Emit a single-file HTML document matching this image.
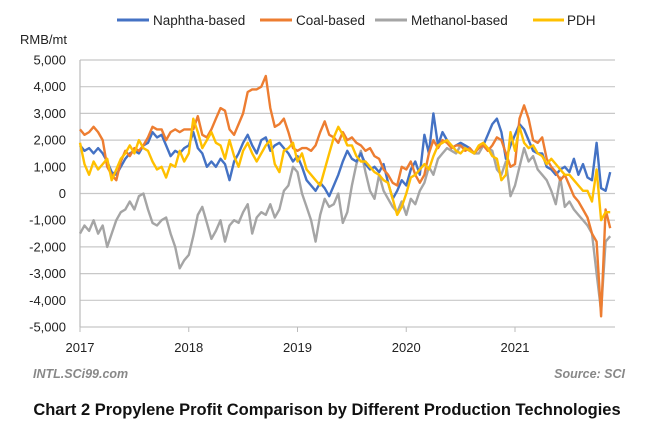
<!DOCTYPE html>
<html><head><meta charset="utf-8"><style>
html,body{margin:0;padding:0;background:#fff;}
svg{display:block;font-family:"Liberation Sans","Noto Sans CJK SC",sans-serif;}
</style></head><body>
<svg id="chart" width="647" height="429" viewBox="0 0 647 429">
<g id="grid"></g>
<g id="yaxis"></g>
<g id="xaxis"></g>
<g id="series"></g>
<text x="20" y="44" font-size="13" fill="#222">RMB/mt</text>
<g>
<g><line x1="117" y1="20" x2="149" y2="20" stroke="#4472C4" stroke-width="3"/><text x="153" y="25" font-size="13.5" fill="#222">Naphtha-based</text></g>
<g><line x1="260" y1="20" x2="292" y2="20" stroke="#ED7D31" stroke-width="3"/><text x="296" y="25" font-size="13.5" fill="#222">Coal-based</text></g>
<g><line x1="375" y1="20" x2="407" y2="20" stroke="#A5A5A5" stroke-width="3"/><text x="411" y="25" font-size="13.5" fill="#222">Methanol-based</text></g>
<g><line x1="533" y1="20" x2="564" y2="20" stroke="#FFC000" stroke-width="3"/><text x="567" y="25" font-size="13.5" fill="#222">PDH</text></g>
</g>
<text x="33" y="378" font-size="12.5" font-weight="bold" font-style="italic" fill="#888">INTL.SCi99.com</text>
<text x="625" y="378" font-size="12.5" font-weight="bold" font-style="italic" fill="#888" text-anchor="end">Source: SCI</text>
<text x="327" y="415" font-size="16.5" font-weight="bold" fill="#111" text-anchor="middle">Chart 2 Propylene Profit Comparison by Different Production Technologies</text>
</svg>
<script>
const yTicks = [5000,4000,3000,2000,1000,0,-1000,-2000,-3000,-4000,-5000];
const yearLabels = ["2017","2018","2019","2020","2021"];
const naphtha = [1800,1600,1700,1500,1700,1500,1200,800,700,1000,1300,1500,1600,1500,1800,1900,2300,2100,2200,1800,1400,1600,1500,1700,
1800,2300,1700,1500,1000,1200,1000,1300,1100,500,1200,1500,1900,2200,1800,1500,2000,2100,1600,1800,1900,1700,1500,1200,
1400,1000,500,300,100,400,200,-100,300,700,1200,1600,1300,1200,1500,1100,900,1000,800,1100,400,-200,100,500,
300,900,1200,700,2200,1500,3000,1800,2300,2000,1700,1800,1900,1800,1700,1500,1700,1800,2200,2600,2800,2300,1300,1800,
2200,2600,2400,2000,1600,1500,1500,1000,900,700,900,1000,800,1300,700,1100,600,500,1900,200,100,800];
const coal = [2400,2200,2300,2500,2300,2000,1000,700,500,1200,1600,1400,1700,1600,1800,2100,2500,2400,2400,2000,2300,2400,2300,2400,
2400,2400,2900,2200,2100,2400,2800,3200,3100,2400,2200,2600,3000,3800,3900,3900,4000,4400,3200,2500,2600,2800,2300,1700,
1600,1700,1700,1600,1800,2300,2700,2200,2100,1900,2300,2000,2100,1900,1800,1600,1700,1400,1300,900,700,400,300,1000,
900,1200,700,400,700,1500,2000,1700,2000,1900,1700,1800,1800,1600,1700,1500,1700,1800,1600,1800,2100,2000,1500,1000,
1100,2800,3300,2800,2000,1900,2100,1300,1000,800,500,700,300,-100,-300,-600,-900,-1500,-1800,-4600,-600,-1300];
const methanol = [-1500,-1200,-1400,-1000,-1500,-1200,-2000,-1500,-1000,-700,-600,-300,-600,-100,0,-600,-1100,-1200,-1000,-900,-1500,-2000,-2800,-2500,
-2300,-1600,-800,-500,-1100,-1700,-1400,-1000,-1800,-1200,-1000,-1100,-700,-400,-1500,-900,-700,-800,-400,-900,-600,100,300,1000,
800,0,-500,-1000,-1800,-800,-200,-500,-400,0,-1100,-700,300,1100,1600,800,100,-200,700,100,-200,-500,-700,-300,
-800,-200,-400,100,400,1000,700,1300,1500,1700,1600,1500,1800,1700,1600,1500,1500,1800,1700,1600,900,700,1200,-100,
300,1000,1700,1200,1400,900,700,500,100,-400,600,-500,-300,-600,-800,-1000,-1200,-1500,-3000,-4400,-1800,-1600];
const pdh = [1900,1100,700,1200,900,1100,1300,500,900,1300,1500,1800,1500,2000,1700,1600,1200,900,1000,600,1100,1000,1600,1200,
1500,2800,2300,1700,2000,2300,1900,1800,1300,2000,1400,1000,1600,1900,1500,1200,1500,1800,2000,1100,800,1600,1700,1900,
1200,1500,900,700,500,300,900,1500,2100,2500,2200,1800,1800,1400,1200,1200,1000,800,700,500,400,-200,-800,-500,
0,600,700,900,1100,900,1400,1800,1900,2000,1800,1600,1500,1700,1600,1500,1800,1900,1700,1400,1300,500,700,2300,
1600,2500,1900,1700,1800,1500,1400,1100,1300,1100,900,700,700,500,300,100,100,-300,900,-1000,-700,-700];

const NS="http://www.w3.org/2000/svg";
const X0=80, YW=108.75, Ytop=60, Ybot=327;
function xScale(i){return X0 + (i/24)*YW;}
function xYear(k){return X0 + k*YW;}
function yScale(v){return Ytop + (5000 - v)/10000*(Ybot-Ytop);}
const grid=document.getElementById('grid'), yax=document.getElementById('yaxis'), xax=document.getElementById('xaxis'), ser=document.getElementById('series');
yTicks.forEach(v=>{
  const y=yScale(v);
  const l=document.createElementNS(NS,'line');
  l.setAttribute('x1',X0);l.setAttribute('x2',615);l.setAttribute('y1',y);l.setAttribute('y2',y);
  l.setAttribute('stroke','#C8C8C8');l.setAttribute('stroke-width','1.2');
  
  
  grid.appendChild(l);
  const t=document.createElementNS(NS,'text');
  t.setAttribute('x',66);t.setAttribute('y',y+4.5);t.setAttribute('text-anchor','end');t.setAttribute('font-size','13');t.setAttribute('fill','#222');
  t.textContent=(v<0?'-':'')+Math.abs(v).toLocaleString('en-US');
  
  
  yax.appendChild(t);
});
const al=document.createElementNS(NS,'line');
al.setAttribute('x1',X0);al.setAttribute('x2',X0);al.setAttribute('y1',Ytop);al.setAttribute('y2',Ybot);al.setAttribute('stroke','#BBB');al.setAttribute('stroke-width','1.2');


yax.appendChild(al);
yearLabels.forEach((lab,k)=>{
  const x=xYear(k);
  const tk=document.createElementNS(NS,'line');
  tk.setAttribute('x1',x);tk.setAttribute('x2',x);tk.setAttribute('y1',Ybot);tk.setAttribute('y2',Ybot+5);tk.setAttribute('stroke','#BBB');
  
  
  xax.appendChild(tk);
  const t=document.createElementNS(NS,'text');
  t.setAttribute('x',x);t.setAttribute('y',352);t.setAttribute('text-anchor','middle');t.setAttribute('font-size','13');t.setAttribute('fill','#222');
  t.textContent=lab;
  
  
  xax.appendChild(t);
});
function drawLine(data,color,name){
  const p=document.createElementNS(NS,'polyline');
  p.setAttribute('points',data.map((v,i)=>xScale(i).toFixed(1)+','+yScale(v).toFixed(1)).join(' '));
  p.setAttribute('fill','none');p.setAttribute('stroke',color);p.setAttribute('stroke-width','2.4');p.setAttribute('stroke-linejoin','round');
  
  
  ser.appendChild(p);
}
drawLine(methanol,'#A5A5A5','methanol-line');
drawLine(naphtha,'#4472C4','naphtha-line');
drawLine(coal,'#ED7D31','coal-line');
drawLine(pdh,'#FFC000','pdh-line');
</script>
</body></html>
